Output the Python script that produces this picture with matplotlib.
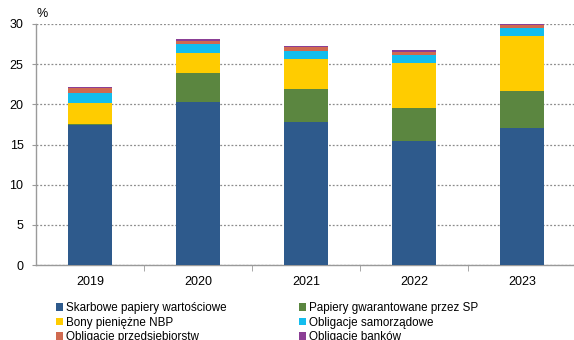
import matplotlib
matplotlib.use("Agg")
import matplotlib.pyplot as plt
from matplotlib.patches import Patch
import numpy as np

plt.rcParams['font.family'] = ['Liberation Sans', 'DejaVu Sans']

years = ["2019", "2020", "2021", "2022", "2023"]
skarbowe = [17.4, 20.3, 17.8, 15.4, 17.0]
gwarantowane = [0.2, 3.6, 4.1, 4.1, 4.6]
bony_nbp = [2.6, 2.5, 3.7, 5.7, 6.9]
samorzadowe = [1.2, 1.1, 1.0, 1.0, 1.0]
przedsiebiorstw = [0.6, 0.4, 0.5, 0.35, 0.4]
bankow = [0.2, 0.25, 0.15, 0.2, 0.1]

series = [
    ("Skarbowe papiery wartościowe", skarbowe, "#2E5A8C"),
    ("Papiery gwarantowane przez SP", gwarantowane, "#5B8640"),
    ("Bony pieniężne NBP", bony_nbp, "#FFCC00"),
    ("Obligacje samorządowe", samorzadowe, "#13BDEE"),
    ("Obligacje przedsiębiorstw", przedsiebiorstw, "#D06A50"),
    ("Obligacje banków", bankow, "#8B3F95"),
]

W, H = 574, 340
fig = plt.figure(figsize=(W / 100, H / 100), dpi=100)
ax = fig.add_axes([36 / W, 1 - 265 / H, 540 / W, (265 - 24) / H])

x = np.arange(len(years))
bottom = np.zeros(len(years))
handles = []
for name, vals, color in series:
    vals = np.array(vals)
    ax.bar(x, vals, width=0.41, bottom=bottom, color=color,
           edgecolor="none", zorder=3)
    bottom += vals
    handles.append(Patch(facecolor=color, edgecolor="none", label=name))

ax.set_xlim(-0.5, len(years) - 0.5)
ax.set_ylim(0, 30)
ax.set_yticks(np.arange(0, 31, 5))
ax.set_xticks(x)
ax.set_xticklabels(years)
ax.set_xticks(np.arange(-0.5, len(years), 1.0)[1:-1], minor=True)

ax.grid(axis="y", color="#8c8c8c", linestyle=(0, (1.5, 1.5)), linewidth=0.9, zorder=0)
for s in ["top", "right"]:
    ax.spines[s].set_visible(False)
for s in ["left", "bottom"]:
    ax.spines[s].set_color("#9a9a9a")
    ax.spines[s].set_linewidth(1.0)

ax.tick_params(axis="y", length=3, color="#9a9a9a", labelsize=9, pad=6)
ax.tick_params(axis="x", which="major", length=0, labelsize=9, pad=8)
ax.tick_params(axis="x", which="minor", length=4, color="#9a9a9a")

fig.text(42 / W, 1 - 14 / H, "%", fontsize=9, ha="center", va="center")

order = [0, 2, 4, 1, 3, 5]
fig.legend([handles[i] for i in order], [handles[i].get_label() for i in order],
           ncol=2, loc="upper left", bbox_to_anchor=(56 / W, 1 - 302 / H),
           frameon=False, fontsize=8.4, borderpad=0, borderaxespad=0,
           handlelength=0.6, handleheight=0.6, handletextpad=0.25,
           labelspacing=0.22, columnspacing=6.2)

fig.savefig("out.png", dpi=100)
